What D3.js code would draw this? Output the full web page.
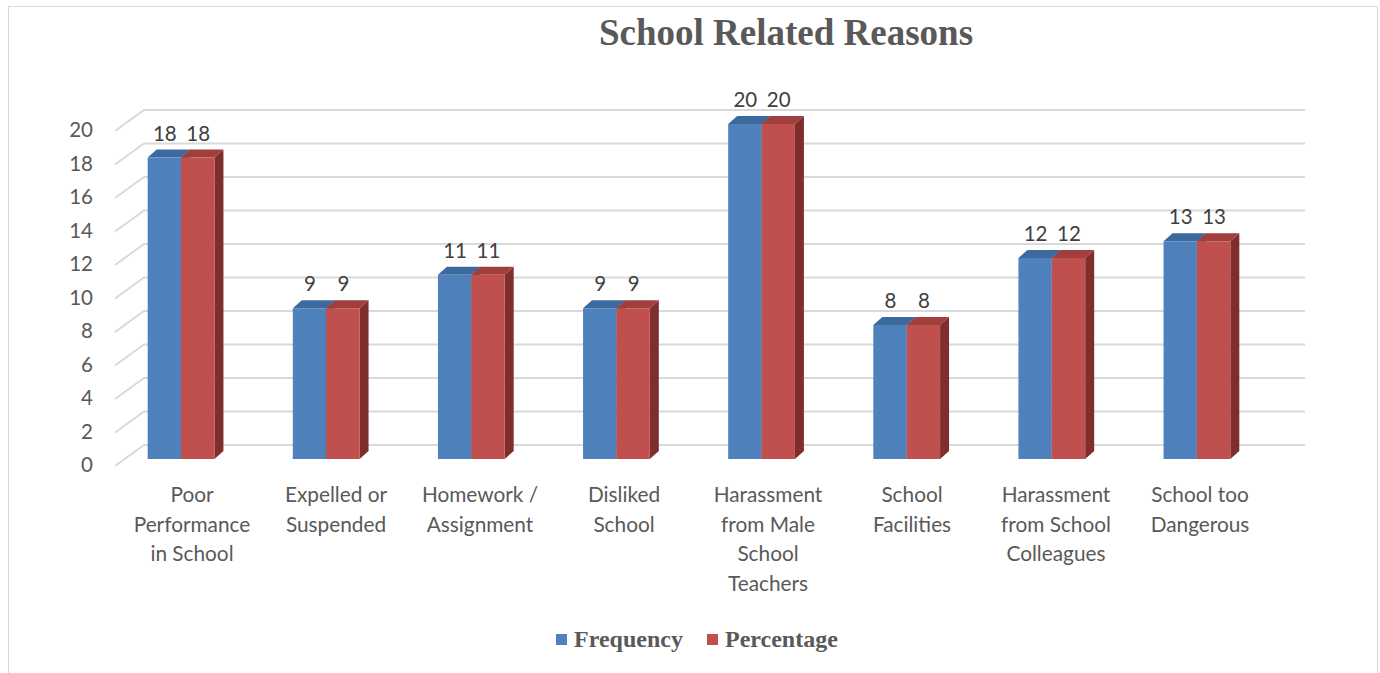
<!DOCTYPE html>
<html>
<head>
<meta charset="utf-8">
<script src="https://cdn.jsdelivr.net/npm/d3@7"></script>
<style>
  html, body { margin: 0; padding: 0; background: #fff; }
  svg { display: block; }
</style>
</head>
<body>
<svg id="chart" width="1380" height="673"></svg>
<script>
// Reasons for leaving school, grouped by category
const categories = [
  "Poor Performance in School",
  "Expelled or Suspended",
  "Homework / Assignment",
  "Disliked School",
  "Harassment from Male School Teachers",
  "School Facilities",
  "Harassment from School Colleagues",
  "School too Dangerous"
];
const categoryLines = [
  ["Poor", "Performance", "in School"],
  ["Expelled or", "Suspended"],
  ["Homework /", "Assignment"],
  ["Disliked", "School"],
  ["Harassment", "from Male", "School", "Teachers"],
  ["School", "Facilities"],
  ["Harassment", "from School", "Colleagues"],
  ["School too", "Dangerous"]
];
const seriesNames = ["Frequency", "Percentage"];
const frequency  = [18, 9, 11, 9, 20, 8, 12, 13];
const percentage = [18, 9, 11, 9, 20, 8, 12, 13];
const yTicks = [0, 2, 4, 6, 8, 10, 12, 14, 16, 18, 20];

const colors = {
  Frequency:  { front: "#4F81BD", top: "#3D6A9E", side: "#34598A" },
  Percentage: { front: "#C0504D", top: "#A13F3D", side: "#7E2F2D" }
};
const textColor = "#595959";
const gridColor = "#D9D9D9";

const svg = d3.select("#chart");

// frame
svg.append("rect")
  .attr("x", 8.5).attr("y", 6.5)
  .attr("width", 1369).attr("height", 680)
  .attr("fill", "none").attr("stroke", "#D9D9D9").attr("stroke-width", 1);

// title
svg.append("text")
  .attr("x", 786).attr("y", 45)
  .attr("text-anchor", "middle")
  .attr("font-family", "'Liberation Serif', 'Times New Roman', serif")
  .attr("font-weight", "bold")
  .attr("font-size", 37)
  .attr("fill", textColor)
  .text("School Related Reasons");

// 3D geometry: back wall offset relative to the front plane
const wallDx = 29;
const barDepthX = 9, barDepthY = 8;
const frontLeft = 115, backRight = 1305;

// value scale at the bar plane (mid depth)
const y = d3.scaleLinear().domain([0, 20]).range([459, 124]);
// front-plane value scale (axis labels)
const yFront = v => y(v) + 7;
// back wall
const yBack = v => y(v) - 14;

// bar plane and (slightly foreshortened) front plane for category labels
const x0 = d3.scaleBand().domain(categories).range([108.5, 1269.5]).paddingInner(0.54).paddingOuter(0.27);
const x1 = d3.scaleBand().domain(seriesNames).range([0, x0.bandwidth()]);
const xLabel = d3.scaleBand().domain(categories).range([120, 1272]);

// gridlines: diagonal side-wall segment then along the back wall
const grid = svg.append("g");
yTicks.forEach(t => {
  const fy = yFront(t), by = yBack(t);
  grid.append("path")
    .attr("d", `M${frontLeft},${fy} L${frontLeft + wallDx},${by} L${backRight},${by}`)
    .attr("fill", "none")
    .attr("stroke", gridColor)
    .attr("stroke-width", 2);
});

// y tick labels
svg.append("g").selectAll("text")
  .data(yTicks).join("text")
  .attr("x", 93)
  .attr("y", d => yFront(d) - 1)
  .attr("dy", "0.35em")
  .attr("text-anchor", "end")
  .attr("font-family", "Lato, 'Open Sans', sans-serif")
  .attr("font-size", 20.5)
  .attr("fill", textColor)
  .text(d => d);

// bars
const seriesData = { Frequency: frequency, Percentage: percentage };
const bars = svg.append("g");
categories.forEach((cat, i) => {
  seriesNames.forEach(s => {
    const v = seriesData[s][i];
    const bx = x0(cat) + x1(s);
    const bw = x1.bandwidth();
    const top = y(v), base = y(0);
    const c = colors[s];
    // side face
    bars.append("path")
      .attr("d", `M${bx + bw},${top} L${bx + bw + barDepthX},${top - barDepthY} L${bx + bw + barDepthX},${base - barDepthY} L${bx + bw},${base} Z`)
      .attr("fill", c.side);
    // top face
    bars.append("path")
      .attr("d", `M${bx},${top} L${bx + barDepthX},${top - barDepthY} L${bx + bw + barDepthX},${top - barDepthY} L${bx + bw},${top} Z`)
      .attr("fill", c.top);
    // front face
    bars.append("rect")
      .attr("x", bx).attr("y", top)
      .attr("width", bw).attr("height", base - top)
      .attr("fill", c.front);
    // value label
    bars.append("text")
      .attr("x", bx + bw / 2 + 0.5)
      .attr("y", top - 17)
      .attr("text-anchor", "middle")
      .attr("font-family", "Lato, 'Open Sans', sans-serif")
      .attr("font-size", 20.5)
      .attr("fill", "#404040")
      .text(v);
  });
});

// category labels
const xl = svg.append("g");
categories.forEach((cat, i) => {
  const cx = xLabel(cat) + xLabel.bandwidth() / 2;
  const t = xl.append("text")
    .attr("text-anchor", "middle")
    .attr("font-family", "Lato, 'Open Sans', sans-serif")
    .attr("font-size", 20.8)
    .attr("fill", textColor);
  categoryLines[i].forEach((line, k) => {
    t.append("tspan").attr("x", cx).attr("y", 502 + k * 29.5).text(line);
  });
});

// legend
const legend = svg.append("g").attr("font-family", "'Liberation Serif', 'Times New Roman', serif");
const legendItems = [{ name: "Frequency", x: 556 }, { name: "Percentage", x: 707 }];
legendItems.forEach(it => {
  legend.append("rect")
    .attr("x", it.x).attr("y", 634)
    .attr("width", 11).attr("height", 11)
    .attr("fill", colors[it.name].front);
  legend.append("text")
    .attr("x", it.x + 18).attr("y", 647)
    .attr("font-weight", "bold")
    .attr("font-size", 24)
    .attr("fill", textColor)
    .text(it.name);
});
</script>
</body>
</html>
